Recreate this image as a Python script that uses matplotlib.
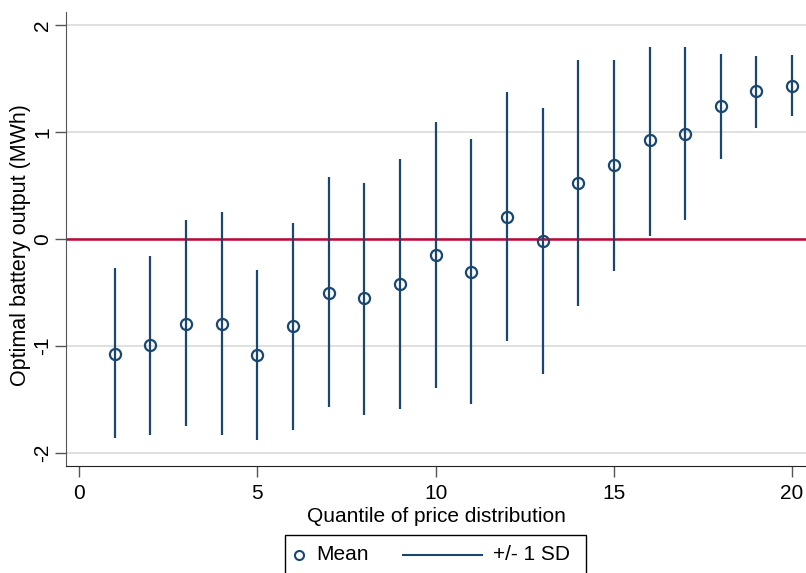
import numpy as np
import matplotlib.pyplot as plt
from matplotlib.lines import Line2D
from matplotlib.patches import Rectangle

# Quantiles and battery output (MWh)
quantile = list(range(1, 21))
mean_out = [-1.07, -0.99, -0.79, -0.79, -1.08, -0.81, -0.50, -0.55, -0.42, -0.15,
            -0.31, 0.21, -0.02, 0.52, 0.69, 0.92, 0.98, 1.24, 1.38, 1.43]
upper_sd = [-0.27, -0.16, 0.18, 0.25, -0.29, 0.15, 0.58, 0.52, 0.75, 1.09,
            0.93, 1.37, 1.22, 1.67, 1.67, 1.79, 1.79, 1.73, 1.71, 1.72]
lower_sd = [-1.86, -1.83, -1.75, -1.83, -1.88, -1.78, -1.57, -1.64, -1.59, -1.39,
            -1.54, -0.95, -1.26, -0.63, -0.30, 0.03, 0.18, 0.75, 1.04, 1.15]

navy = '#1a476f'
red = '#c10534'
W, H = 806, 573

plt.rcParams['font.family'] = ['Liberation Sans', 'DejaVu Sans']

fig = plt.figure(figsize=(W / 100, H / 100), dpi=100)
ax = fig.add_axes([66 / W, 1 - 466 / H, 740 / W, 454 / H])

ax.axhline(0, color=red, lw=1.8, zorder=2)
ax.vlines(quantile, lower_sd, upper_sd, color=navy, lw=1.6, zorder=3)
ax.plot(quantile, mean_out, 'o', mfc='none', mec=navy, mew=1.6, ms=8, zorder=4)

ax.set_xlim(-0.37, 20.39)
ax.set_ylim(-2.12, 2.12)
ax.set_xticks([0, 5, 10, 15, 20])
ax.set_yticks([-2, -1, 0, 1, 2])
ax.set_yticklabels(['-2', '-1', '0', '1', '2'], rotation=90, va='center')
ax.tick_params(axis='both', length=8, width=1, color='#555555', labelsize=15)
ax.tick_params(axis='y', pad=2)
ax.tick_params(axis='x', pad=5)
ax.yaxis.grid(True, color='#dddddd', lw=1.3)
ax.set_axisbelow(True)

for s in ['top', 'right']:
    ax.spines[s].set_visible(False)
ax.spines['left'].set_color('#555555')
ax.spines['bottom'].set_color('#222222')

ax.set_xlabel('Quantile of price distribution', fontsize=15, labelpad=3)
ax.set_ylabel('Optimal battery output (MWh)', fontsize=15.5)
ax.yaxis.set_label_coords((31 - 66) / 740, (466 - 245) / 454)

# legend drawn by hand (box runs off the bottom edge like the original)
fig.patches.append(Rectangle((285 / W, -0.01), 301 / W, 1 - 535 / H + 0.01,
                             transform=fig.transFigure, fill=False,
                             edgecolor='black', lw=1))
ly = 1 - 555 / H
fig.add_artist(Line2D([299 / W], [ly], marker='o', ls='none', mfc='none',
                      mec=navy, mew=1.5, ms=6.5, transform=fig.transFigure))
fig.add_artist(Line2D([403 / W, 482 / W], [ly, ly], color=navy, lw=1.5,
                      transform=fig.transFigure))
fig.text(316 / W, ly, 'Mean', fontsize=15, va='center', ha='left')
fig.text(493 / W, ly, '+/- 1 SD', fontsize=15, va='center', ha='left')

fig.savefig('out.png', dpi=100)
